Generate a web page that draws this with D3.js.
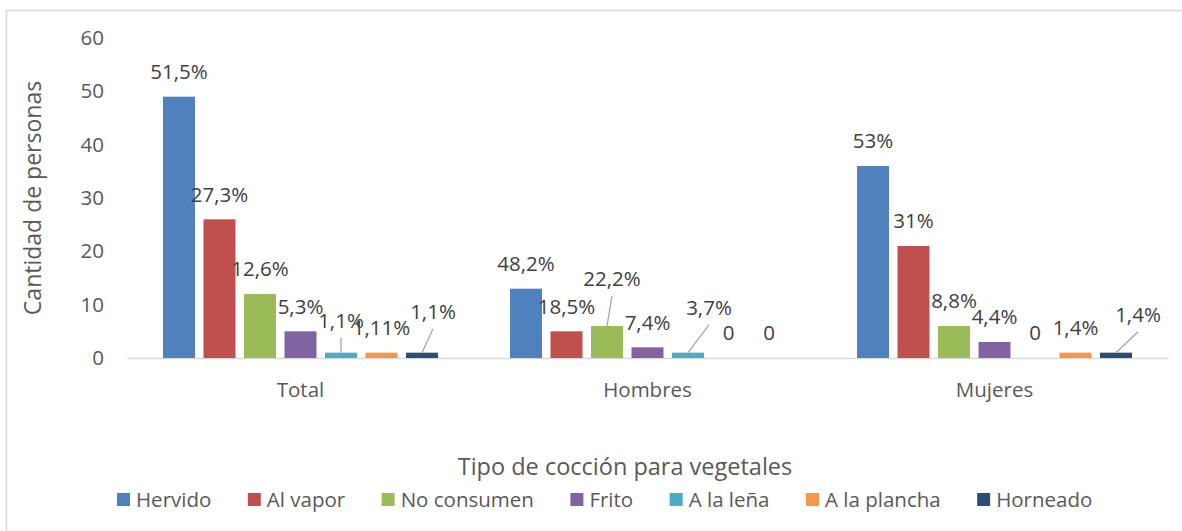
<!DOCTYPE html>
<html>
<head>
<meta charset="utf-8">
<script src="https://cdn.jsdelivr.net/npm/d3@7"></script>
<style>
  body { margin: 0; background: #fff; }
  text { font-family: "Open Sans", sans-serif; }
</style>
</head>
<body>
<div id="chart"></div>
<script>
// data
var categories = ["Total", "Hombres", "Mujeres"];
var series = ["Hervido", "Al vapor", "No consumen", "Frito", "A la leña", "A la plancha", "Horneado"];
var colors = ["#4F81BD", "#C0504D", "#9BBB59", "#8064A2", "#4BACC6", "#F79646", "#2C4D75"];

var hervido = [49, 13, 36];
var alVapor = [26, 5, 21];
var noConsumen = [12, 6, 6];
var frito = [5, 2, 3];
var aLaLena = [1, 1, 0];
var aLaPlancha = [1, 0, 1];
var horneado = [1, 0, 1];

var totalLabels = ["51,5%", "27,3%", "12,6%", "5,3%", "1,1%", "1,11%", "1,1%"];
var hombresLabels = ["48,2%", "18,5%", "22,2%", "7,4%", "3,7%", "0", "0"];
var mujeresLabels = ["53%", "31%", "8,8%", "4,4%", "0", "1,4%", "1,4%"];

var yTicks = [0, 10, 20, 30, 40, 50, 60];

var seriesValues = [hervido, alVapor, noConsumen, frito, aLaLena, aLaPlancha, horneado];
var categoryLabels = [totalLabels, hombresLabels, mujeresLabels];

// labels that were dragged away from their bar in the original, with a leader line
var labelNudge = {
    "Total|A la leña": { dx: 0, dy: -7 },
    "Total|Horneado": { dx: 11, dy: -16 },
    "Hombres|No consumen": { dx: 5, dy: -22 },
    "Hombres|A la leña": { dx: 21, dy: -20 },
    "Mujeres|Horneado": { dx: 22, dy: -13 }
};

var svgWidth = 1182;
var svgHeight = 531;

var margin = { top: 38, right: 14, bottom: 173, left: 127 };
var width = svgWidth - margin.left - margin.right;
var height = svgHeight - margin.top - margin.bottom;

var svg = d3.select("#chart")
    .append("svg")
    .attr("width", svgWidth)
    .attr("height", svgHeight);

svg.append("rect")
    .attr("x", 6.5)
    .attr("y", 10.5)
    .attr("width", svgWidth)
    .attr("height", svgHeight)
    .attr("fill", "#fff")
    .attr("stroke", "#d9d9d9")
    .attr("stroke-width", 1.5);

var chartGroup = svg.append("g")
    .attr("transform", `translate(${margin.left}, ${margin.top})`);

var x0 = d3.scaleBand()
    .domain(categories)
    .range([0, width]);

var x1 = d3.scaleBand()
    .domain(series)
    .range([36 - 0.1 * 40.5, x0.bandwidth() - 36 + 0.1 * 40.5])
    .paddingInner(0.21)
    .paddingOuter(0.1);

var yLinearScale = d3.scaleLinear()
    .domain([0, 60])
    .range([height, 0]);

// y axis labels only, no line
var leftAxis = d3.axisLeft(yLinearScale).tickValues(yTicks).tickSize(0).tickPadding(23);
var yAxis = chartGroup.append("g").call(leftAxis);
yAxis.select(".domain").remove();
yAxis.selectAll("text")
    .attr("fill", "#595959")
    .style("font-size", "20.5px")
    .style("font-family", "'Open Sans', sans-serif");

var bottomAxis = d3.axisBottom(x0).tickSize(0).tickPadding(24);
var xAxis = chartGroup.append("g")
    .attr("transform", `translate(0, ${height})`)
    .call(bottomAxis);
xAxis.select(".domain").attr("stroke", "#d9d9d9").attr("stroke-width", 1.5);
xAxis.selectAll("text")
    .attr("fill", "#595959")
    .style("font-size", "20.5px")
    .style("font-family", "'Open Sans', sans-serif");

var rows = [];
categories.forEach(function(cat, ci) {
    series.forEach(function(s, si) {
        rows.push({
            category: cat,
            series: s,
            color: colors[si],
            value: seriesValues[si][ci],
            label: categoryLabels[ci][si]
        });
    });
});

var barsGroup = chartGroup.append("g");
barsGroup.selectAll("rect")
    .data(rows)
    .enter().append("rect")
    .attr("x", d => x0(d.category) + x1(d.series))
    .attr("y", d => yLinearScale(d.value))
    .attr("width", x1.bandwidth())
    .attr("height", d => height - yLinearScale(d.value))
    .attr("fill", d => d.color);

function labelPos(d) {
    var key = d.category + "|" + d.series;
    var n = labelNudge[key] || { dx: 0, dy: 0 };
    var cx = x0(d.category) + x1(d.series) + x1.bandwidth() / 2;
    var top = yLinearScale(d.value);
    return { cx: cx, top: top, x: cx + n.dx, y: top - 25 + n.dy, leader: !!labelNudge[key] };
}

chartGroup.append("g").selectAll("line")
    .data(rows.filter(d => labelPos(d).leader))
    .enter().append("line")
    .attr("x1", d => labelPos(d).x)
    .attr("y1", d => labelPos(d).y + 17)
    .attr("x2", d => labelPos(d).cx)
    .attr("y2", d => labelPos(d).top)
    .attr("stroke", "#a6a6a6")
    .attr("stroke-width", 1.3);

chartGroup.append("g").selectAll("text")
    .data(rows)
    .enter().append("text")
    .attr("x", d => labelPos(d).x)
    .attr("y", d => labelPos(d).y)
    .attr("dy", "0.35em")
    .attr("text-anchor", "middle")
    .attr("fill", "#404040")
    .style("font-size", "20.5px")
    .text(d => d.label);

// axis titles
svg.append("text")
    .attr("transform", `translate(41, ${margin.top + height / 2}) rotate(-90)`)
    .attr("text-anchor", "middle")
    .attr("fill", "#595959")
    .style("font-size", "23px")
    .text("Cantidad de personas");

svg.append("text")
    .attr("x", 625)
    .attr("y", 467)
    .attr("dy", "0.35em")
    .attr("text-anchor", "middle")
    .attr("fill", "#595959")
    .style("font-size", "23.5px")
    .text("Tipo de cocción para vegetales");

// legend
var legend = svg.append("g").attr("transform", "translate(117, 500)");
var lx = 0;
series.forEach(function(s, i) {
    var item = legend.append("g").attr("transform", `translate(${lx}, 0)`);
    item.append("rect")
        .attr("x", 0)
        .attr("y", -7)
        .attr("width", 13)
        .attr("height", 13)
        .attr("fill", colors[i]);
    var t = item.append("text")
        .attr("x", 19)
        .attr("dy", "0.35em")
        .attr("fill", "#595959")
        .style("font-size", "20.5px")
        .text(s);
    lx += 19 + t.node().getComputedTextLength() + 36.5;
});
</script>
</body>
</html>
